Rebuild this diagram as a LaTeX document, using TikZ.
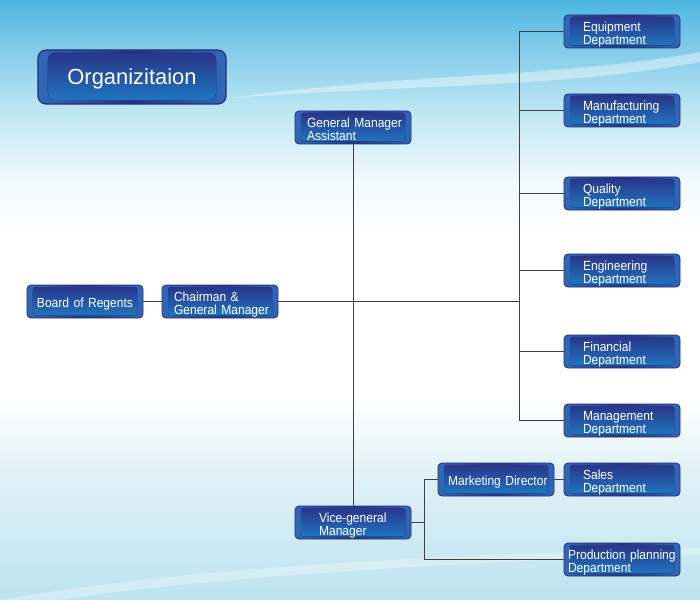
\documentclass[tikz,border=0pt]{standalone}
\usepackage{fontspec}
\setmainfont{Liberation Sans}
\newfontfamily\boxfont[FakeStretch=0.91]{Liberation Sans}
\hyphenpenalty=10000
\exhyphenpenalty=10000
\definecolor{boxtop}{RGB}{42,50,134}
\definecolor{boxbot}{RGB}{30,122,196}
\definecolor{boxrim}{RGB}{38,46,124}
\definecolor{rimside}{RGB}{48,104,184}
\definecolor{wirecol}{RGB}{64,64,64}
\definecolor{skyA}{RGB}{75,182,225}
\definecolor{skyB}{RGB}{120,200,232}
\definecolor{skyC}{RGB}{190,230,243}
\definecolor{skyD}{RGB}{240,249,252}
\definecolor{skyE}{RGB}{225,242,247}
\definecolor{skyF}{RGB}{200,232,242}
\definecolor{skyG}{RGB}{188,227,240}
\pgfdeclareverticalshading{sky}{100bp}{color(0bp)=(skyG); color(25bp)=(skyG); color(28.33bp)=(skyF); color(35.83bp)=(skyE); color(41.67bp)=(white); color(55.83bp)=(white); color(60bp)=(skyD); color(65.83bp)=(skyC); color(71.67bp)=(skyB); color(75bp)=(skyA); color(100bp)=(skyA)}

\begin{document}
\begin{tikzpicture}[x=1bp, y=-1bp,
	box/.style={rounded corners=4bp, draw=boxrim, line width=0.8bp, left color=rimside, right color=rimside, middle color=boxtop,
		path picture={\fill[rounded corners=3bp, top color=boxtop, bottom color=boxbot] ([xshift=6bp,yshift=-2bp]path picture bounding box.north west) rectangle ([xshift=-6bp,yshift=2.5bp]path picture bounding box.south east);},
		text=white, font=\boxfont\fontsize{13.3}{13.2}\selectfont, minimum width=116bp, minimum height=33bp, inner xsep=0pt, inner ysep=0pt,
		text height=16.5bp, text depth=16.5bp, align=left, text width=#1},
	box/.default=78bp,
	oneline/.style={text height=22.5bp, text depth=10.5bp},
	titlebox/.style={box=188bp, minimum width=188bp, minimum height=54bp, rounded corners=8bp, line width=1.2bp, text height=35bp, text depth=19bp, align=center, font=\rmfamily\fontsize{22}{24}\selectfont,
		path picture={\fill[rounded corners=7bp, top color=boxtop, bottom color=boxbot] ([xshift=10bp,yshift=-3bp]path picture bounding box.north west) rectangle ([xshift=-10bp,yshift=4bp]path picture bounding box.south east);}},
	wire/.style={draw=wirecol, line width=0.9bp}]
	
	\shade[shading=sky] (0,0) rectangle (700,600);
	\useasboundingbox (0,0) rectangle (700,600);
	\fill[white, opacity=.4] (230,98) .. controls (420,72) and (560,78) .. (700,52) -- (700,62) .. controls (560,88) and (420,84) .. (230,98) -- cycle;
	\fill[white, opacity=.3] (0,600) .. controls (200,565) and (450,555) .. (700,548) -- (700,554) .. controls (450,562) and (200,578) .. (60,600) -- cycle;
	
	\node[titlebox] (title) at (132,77) {Organizitaion};
	
	\node[box=96bp, oneline] (board) at (85,301.5) {Board~of~Regents};
	\node[box=92bp] (chair) at (220,301.5) {Chairman~\&\\General~Manager};
	\node[box=92bp] (gma) at (353,127.5) {General~Manager\\Assistant};
	\node[box=68bp] (vice) at (353,522.5) {Vice-general\\Manager};
	\node[box=96bp, oneline] (mkt) at (496,479.5) {Marketing~Director};
	
	\node[box] (equip) at (622,31.5) {Equipment\\Department};
	\node[box] (manu) at (622,110.5) {Manufacturing\\Department};
	\node[box] (qual) at (622,193.5) {Quality\\Department};
	\node[box] (eng) at (622,270.5) {Engineering\\Department};
	\node[box] (fin) at (622,351.5) {Financial\\Department};
	\node[box] (mgmt) at (622,420.5) {Management\\Department};
	\node[box] (sales) at (622,479.5) {Sales\\Department};
	\node[box=108bp] (prod) at (622,559.5) {Production~planning\\Department};
	
	\coordinate (spine) at (519,0);
	\coordinate (fork) at (424,0);
	
	\draw[wire] (board) -- (chair);
	\draw[wire] (chair.east) -- (chair.east -| spine);
	\draw[wire] (gma.south) -- (vice.north);
	\draw[wire] (equip.west -| spine) -- (mgmt.west -| spine);
	\foreach \d in {equip,manu,qual,eng,fin,mgmt}
		\draw[wire] (\d.west -| spine) -- (\d.west);
	
	\draw[wire] (vice.east) -- (vice.east -| fork);
	\draw[wire] (mkt.west -| fork) -- (prod.west -| fork);
	\draw[wire] (mkt.west -| fork) -- (mkt.west);
	\draw[wire] (prod.west -| fork) -- (prod.west);
	\draw[wire] (mkt) -- (sales);
	
\end{tikzpicture}
\end{document}
